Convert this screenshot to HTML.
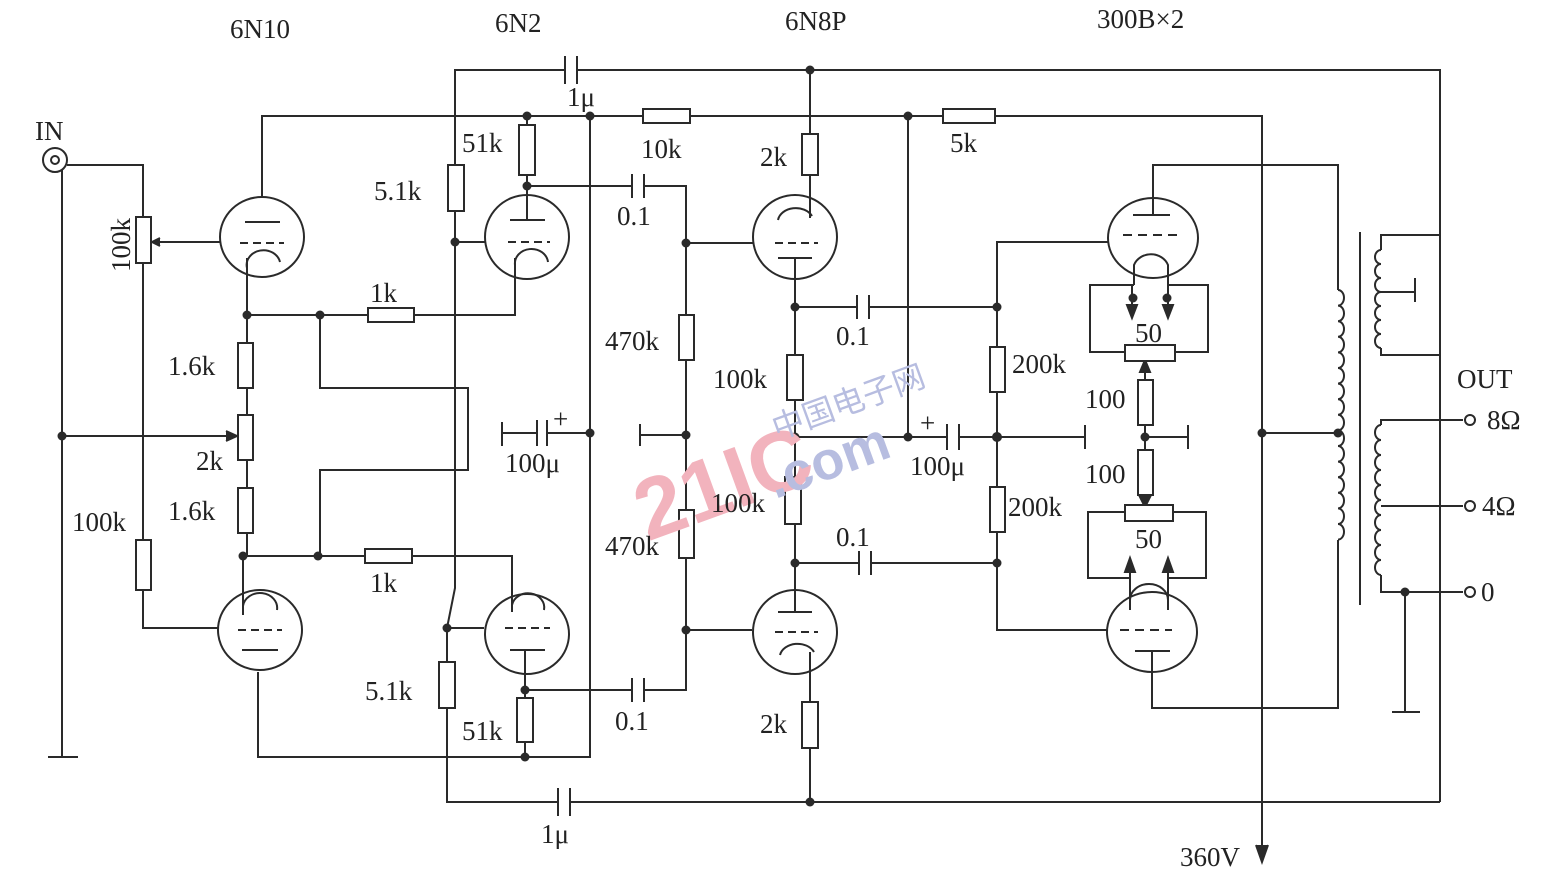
<!DOCTYPE html>
<html><head><meta charset="utf-8"><style>
html,body{margin:0;padding:0;background:#fff;}
svg{display:block}
text{font-family:"Liberation Serif",serif;font-size:27px;fill:#222;}
</style></head><body>
<svg width="1549" height="877" viewBox="0 0 1549 877" xmlns="http://www.w3.org/2000/svg">
<g stroke="#2a2a2a" stroke-width="2" fill="none">
<polyline points="455,165 455,70 565,70"/><polyline points="577,70 1440,70 1440,802"/>
<line x1="565" y1="56" x2="565" y2="84"/><line x1="577" y1="56" x2="577" y2="84"/>
<polyline points="447,708 447,802 558,802"/><polyline points="570,802 1440,802"/>
<line x1="558" y1="788" x2="558" y2="816"/><line x1="570" y1="788" x2="570" y2="816"/>
<polyline points="262,197 262,116 643,116"/><line x1="690" y1="116" x2="943" y2="116"/><polyline points="995,116 1262,116 1262,850"/>
<path d="M1256,845 L1262,862 L1268,845" fill="#2a2a2a"/>
<polyline points="590,116 590,757 258,757 258,672"/>
<line x1="590" y1="433" x2="547" y2="433"/><line x1="537" y1="433" x2="502" y2="433"/><line x1="502" y1="422" x2="502" y2="446"/>
<line x1="537" y1="420" x2="537" y2="446"/><line x1="547" y1="420" x2="547" y2="446"/>
<circle cx="55" cy="160" r="12"/><circle cx="55" cy="160" r="4"/>
<polyline points="62,170 62,757"/><line x1="48" y1="757" x2="78" y2="757"/>
<polyline points="67,165 143,165 143,540"/><polyline points="143,590 143,628 218,628"/>
<line x1="220" y1="242" x2="158" y2="242"/><path d="M160,238 L152,242 L160,246" fill="#2a2a2a"/>
<line x1="62" y1="436" x2="232" y2="436"/><path d="M226,431 L237,436 L226,441" fill="#2a2a2a"/>
<polyline points="247,258 247,556 243,556 243,615"/>
<ellipse cx="262" cy="237" rx="42" ry="40"/><line x1="245" y1="222" x2="280" y2="222"/><line x1="240" y1="243" x2="284" y2="243" stroke-dasharray="8,5"/>
<path d="M247,275 L247,268 A16,14 0 0 1 280,262"/>
<ellipse cx="260" cy="630" rx="42" ry="40"/><line x1="242" y1="650" x2="278" y2="650"/><line x1="238" y1="630" x2="282" y2="630" stroke-dasharray="8,5"/>
<path d="M243,610 L243,606 A16,14 0 0 1 277,610"/>
<polyline points="247,315 368,315"/><polyline points="414,315 515,315 515,258"/>
<polyline points="320,315 320,388 468,388 468,470 320,470 320,556"/>
<polyline points="243,556 365,556"/><polyline points="412,556 512,556 512,612"/>
<polyline points="455,211 455,588 447,628 447,662"/>
<line x1="455" y1="242" x2="485" y2="242"/><line x1="447" y1="628" x2="484" y2="628"/>
<ellipse cx="527" cy="237" rx="42" ry="42"/><line x1="510" y1="220" x2="545" y2="220"/><line x1="508" y1="242" x2="550" y2="242" stroke-dasharray="8,5"/>
<path d="M515,278 L515,265 A16,14 0 0 1 548,262"/>
<polyline points="527,220 527,175"/><line x1="527" y1="125" x2="527" y2="116"/>
<polyline points="527,186 632,186"/><polyline points="644,186 686,186 686,315"/>
<line x1="632" y1="174" x2="632" y2="198"/><line x1="644" y1="174" x2="644" y2="198"/>
<ellipse cx="527" cy="634" rx="42" ry="40"/><line x1="510" y1="650" x2="545" y2="650"/><line x1="505" y1="628" x2="550" y2="628" stroke-dasharray="8,5"/>
<path d="M512,612 L512,605 A16,14 0 0 1 544,610"/>
<polyline points="525,650 525,698"/><line x1="525" y1="742" x2="525" y2="757"/>
<polyline points="525,690 632,690"/><polyline points="644,690 686,690 686,558"/>
<line x1="632" y1="678" x2="632" y2="702"/><line x1="644" y1="678" x2="644" y2="702"/>
<line x1="686" y1="360" x2="686" y2="510"/>
<line x1="686" y1="243" x2="753" y2="243"/><line x1="686" y1="630" x2="752" y2="630"/>
<line x1="686" y1="435" x2="640" y2="435"/><line x1="640" y1="424" x2="640" y2="446"/>
<ellipse cx="795" cy="237" rx="42" ry="42"/><line x1="778" y1="258" x2="812" y2="258"/><line x1="775" y1="243" x2="818" y2="243" stroke-dasharray="8,5"/>
<path d="M778,220 A18,14 0 0 1 812,216"/>
<polyline points="810,70 810,134"/><polyline points="810,175 810,218"/>
<polyline points="795,258 795,355"/><polyline points="795,400 795,477"/><polyline points="795,524 795,612"/>
<ellipse cx="795" cy="632" rx="42" ry="42"/><line x1="778" y1="612" x2="812" y2="612"/><line x1="775" y1="632" x2="818" y2="632" stroke-dasharray="8,5"/>
<path d="M780,655 A18,14 0 0 1 814,652"/>
<polyline points="810,652 810,702"/><polyline points="810,748 810,802"/>
<polyline points="795,307 857,307"/><polyline points="869,307 997,307"/>
<line x1="857" y1="295" x2="857" y2="319"/><line x1="869" y1="295" x2="869" y2="319"/>
<polyline points="795,563 859,563"/><polyline points="871,563 997,563"/>
<line x1="859" y1="551" x2="859" y2="575"/><line x1="871" y1="551" x2="871" y2="575"/>
<polyline points="908,116 908,435"/>
<polyline points="795,437 947,437"/><polyline points="959,437 1085,437"/><line x1="1085" y1="425" x2="1085" y2="449"/>
<line x1="947" y1="424" x2="947" y2="450"/><line x1="959" y1="424" x2="959" y2="450"/>
<polyline points="1108,242 997,242 997,347"/><line x1="997" y1="392" x2="997" y2="487"/><polyline points="997,532 997,630 1108,630"/>
<ellipse cx="1153" cy="238" rx="45" ry="40"/><line x1="1133" y1="215" x2="1170" y2="215"/><line x1="1123" y1="235" x2="1178" y2="235" stroke-dasharray="9,6"/>
<path d="M1134,285 L1134,265 A18,16 0 0 1 1168,265 L1168,285"/>
<polyline points="1153,215 1153,165 1338,165 1338,290"/>
<polyline points="1134,285 1090,285 1090,352 1125,352"/><polyline points="1168,285 1208,285 1208,352 1175,352"/>
<line x1="1132" y1="285" x2="1132" y2="312"/><line x1="1168" y1="285" x2="1168" y2="312"/>
<path d="M1127,305 L1132,318 L1137,305 Z M1163,305 L1168,318 L1173,305 Z" fill="#2a2a2a"/>
<line x1="1145" y1="380" x2="1145" y2="362"/><path d="M1140,372 L1145,360 L1150,372Z" fill="#2a2a2a"/>
<line x1="1145" y1="425" x2="1145" y2="450"/><line x1="1145" y1="437" x2="1188" y2="437"/><line x1="1188" y1="425" x2="1188" y2="449"/>
<line x1="1145" y1="495" x2="1145" y2="505"/><path d="M1140,497 L1145,507 L1150,497Z" fill="#2a2a2a"/>
<polyline points="1125,512 1088,512 1088,578 1130,578"/><polyline points="1173,512 1206,512 1206,578 1168,578"/>
<line x1="1130" y1="610" x2="1130" y2="562"/><line x1="1168" y1="610" x2="1168" y2="562"/>
<path d="M1125,572 L1130,558 L1135,572Z M1163,572 L1168,558 L1173,572Z" fill="#2a2a2a"/>
<ellipse cx="1152" cy="632" rx="45" ry="40"/><line x1="1120" y1="630" x2="1172" y2="630" stroke-dasharray="9,6"/><line x1="1135" y1="651" x2="1170" y2="651"/>
<path d="M1130,600 A19,16 0 0 1 1168,600"/>
<polyline points="1152,651 1152,708 1338,708 1338,540"/>
<line x1="1262" y1="433" x2="1338" y2="433"/>
<path d="M1338,290 a6,7.8 0 0 1 0,15.6 a6,7.8 0 0 1 0,15.6 a6,7.8 0 0 1 0,15.6 a6,7.8 0 0 1 0,15.6 a6,7.8 0 0 1 0,15.6 a6,7.8 0 0 1 0,15.6 a6,7.8 0 0 1 0,15.6 a6,7.8 0 0 1 0,15.6 a6,7.8 0 0 1 0,15.6 a6,7.8 0 0 1 0,15.6 a6,7.8 0 0 1 0,15.6 a6,7.8 0 0 1 0,15.6 a6,7.8 0 0 1 0,15.6 a6,7.8 0 0 1 0,15.6 a6,7.8 0 0 1 0,15.6 a6,7.8 0 0 1 0,15.6"/>
<line x1="1360" y1="232" x2="1360" y2="605"/>
<polyline points="1440,235 1381,235 1381,250"/><polyline points="1381,348 1381,355 1440,355"/>
<path d="M1381,250 a6,7 0 0 0 0,14 a6,7 0 0 0 0,14 a6,7 0 0 0 0,14 a6,7 0 0 0 0,14 a6,7 0 0 0 0,14 a6,7 0 0 0 0,14 a6,7 0 0 0 0,14"/>
<line x1="1381" y1="292" x2="1415" y2="292"/><line x1="1415" y1="278" x2="1415" y2="302"/>
<polyline points="1463,420 1381,420 1381,425"/>
<path d="M1381,425 a6,7.5 0 0 0 0,15 a6,7.5 0 0 0 0,15 a6,7.5 0 0 0 0,15 a6,7.5 0 0 0 0,15 a6,7.5 0 0 0 0,15 a6,7.5 0 0 0 0,15 a6,7.5 0 0 0 0,15 a6,7.5 0 0 0 0,15 a6,7.5 0 0 0 0,15 a6,7.5 0 0 0 0,15"/>
<polyline points="1381,575 1381,592 1463,592"/>
<line x1="1381" y1="506" x2="1463" y2="506"/>
<polyline points="1405,592 1405,712"/><line x1="1392" y1="712" x2="1420" y2="712"/>
<circle cx="1470" cy="420" r="5"/><circle cx="1470" cy="506" r="5"/><circle cx="1470" cy="592" r="5"/>
</g>
<g stroke="#2a2a2a" stroke-width="2" fill="#fff">
<rect x="136" y="217" width="15" height="46"/><rect x="136" y="540" width="15" height="50"/>
<rect x="238" y="343" width="15" height="45"/><rect x="238" y="415" width="15" height="45"/><rect x="238" y="488" width="15" height="45"/>
<rect x="368" y="308" width="46" height="14"/><rect x="365" y="549" width="47" height="14"/>
<rect x="448" y="165" width="16" height="46"/><rect x="439" y="662" width="16" height="46"/>
<rect x="519" y="125" width="16" height="50"/><rect x="517" y="698" width="16" height="44"/>
<rect x="643" y="109" width="47" height="14"/><rect x="943" y="109" width="52" height="14"/>
<rect x="679" y="315" width="15" height="45"/><rect x="679" y="510" width="15" height="48"/>
<rect x="802" y="134" width="16" height="41"/><rect x="802" y="702" width="16" height="46"/>
<rect x="787" y="355" width="16" height="45"/><rect x="785" y="477" width="16" height="47"/>
<rect x="990" y="347" width="15" height="45"/><rect x="990" y="487" width="15" height="45"/>
<rect x="1125" y="345" width="50" height="16"/><rect x="1138" y="380" width="15" height="45"/>
<rect x="1138" y="450" width="15" height="45"/><rect x="1125" y="505" width="48" height="16"/>
</g>
<g fill="#2a2a2a">
<circle cx="62" cy="436" r="4.5"/><circle cx="247" cy="315" r="4.5"/><circle cx="320" cy="315" r="4.5"/>
<circle cx="243" cy="556" r="4.5"/><circle cx="318" cy="556" r="4.5"/><circle cx="455" cy="242" r="4.5"/>
<circle cx="447" cy="628" r="4.5"/><circle cx="527" cy="116" r="4.5"/><circle cx="590" cy="116" r="4.5"/>
<circle cx="527" cy="186" r="4.5"/><circle cx="525" cy="690" r="4.5"/><circle cx="525" cy="757" r="4.5"/>
<circle cx="590" cy="433" r="4.5"/><circle cx="686" cy="243" r="4.5"/><circle cx="686" cy="435" r="4.5"/><circle cx="686" cy="630" r="4.5"/>
<circle cx="810" cy="70" r="4.5"/><circle cx="810" cy="802" r="4.5"/><circle cx="795" cy="307" r="4.5"/><circle cx="795" cy="437" r="4.5"/><circle cx="795" cy="563" r="4.5"/>
<circle cx="908" cy="116" r="4.5"/><circle cx="908" cy="437" r="4.5"/><circle cx="997" cy="307" r="4.5"/><circle cx="997" cy="437" r="5"/><circle cx="997" cy="563" r="4.5"/>
<circle cx="1133" cy="298" r="4.5"/><circle cx="1167" cy="298" r="4.5"/><circle cx="1145" cy="437" r="4.5"/>
<circle cx="1262" cy="433" r="4.5"/><circle cx="1338" cy="433" r="4.5"/><circle cx="1405" cy="592" r="4.5"/>
</g>
<text x="630" y="520" transform="rotate(-20 700 480)" style="font-family:'Liberation Sans',sans-serif;font-weight:bold;font-size:86px;fill:#f2b3bd">21IC</text>
<text x="770" y="420" transform="rotate(-20 830 410)" style="font-family:'Liberation Sans','Noto Sans CJK SC',sans-serif;font-size:32px;fill:#b7bde0">中国电子网</text>
<text x="765" y="478" transform="rotate(-20 830 460)" style="font-family:'Liberation Sans',sans-serif;font-weight:bold;font-size:54px;fill:#b7bde0">.com</text>
<text x="230" y="38">6N10</text><text x="495" y="32">6N2</text><text x="785" y="30">6N8P</text><text x="1097" y="28">300B×2</text>
<text x="35" y="140">IN</text>
<text x="0" y="0" transform="translate(130,272) rotate(-90)">100k</text>
<text x="567" y="106">1μ</text><text x="462" y="152">51k</text><text x="374" y="200">5.1k</text>
<text x="641" y="158">10k</text><text x="950" y="152">5k</text><text x="760" y="166">2k</text>
<text x="617" y="225">0.1</text><text x="370" y="302">1k</text><text x="168" y="375">1.6k</text>
<text x="196" y="470">2k</text><text x="168" y="520">1.6k</text><text x="72" y="531">100k</text>
<text x="370" y="592">1k</text><text x="605" y="350">470k</text><text x="605" y="555">470k</text>
<text x="713" y="388">100k</text><text x="711" y="512">100k</text>
<text x="836" y="345">0.1</text><text x="836" y="546">0.1</text>
<text x="505" y="472">100μ</text><text x="553" y="428">+</text>
<text x="910" y="475">100μ</text><text x="920" y="432">+</text>
<text x="1012" y="373">200k</text><text x="1008" y="516">200k</text>
<text x="1135" y="342">50</text><text x="1135" y="548">50</text>
<text x="1085" y="408">100</text><text x="1085" y="483">100</text>
<text x="1457" y="388">OUT</text><text x="1487" y="429">8Ω</text><text x="1482" y="515">4Ω</text><text x="1481" y="601">0</text>
<text x="365" y="700">5.1k</text><text x="462" y="740">51k</text><text x="615" y="730">0.1</text>
<text x="760" y="733">2k</text><text x="541" y="843">1μ</text><text x="1180" y="866">360V</text>
</svg>
</body></html>
